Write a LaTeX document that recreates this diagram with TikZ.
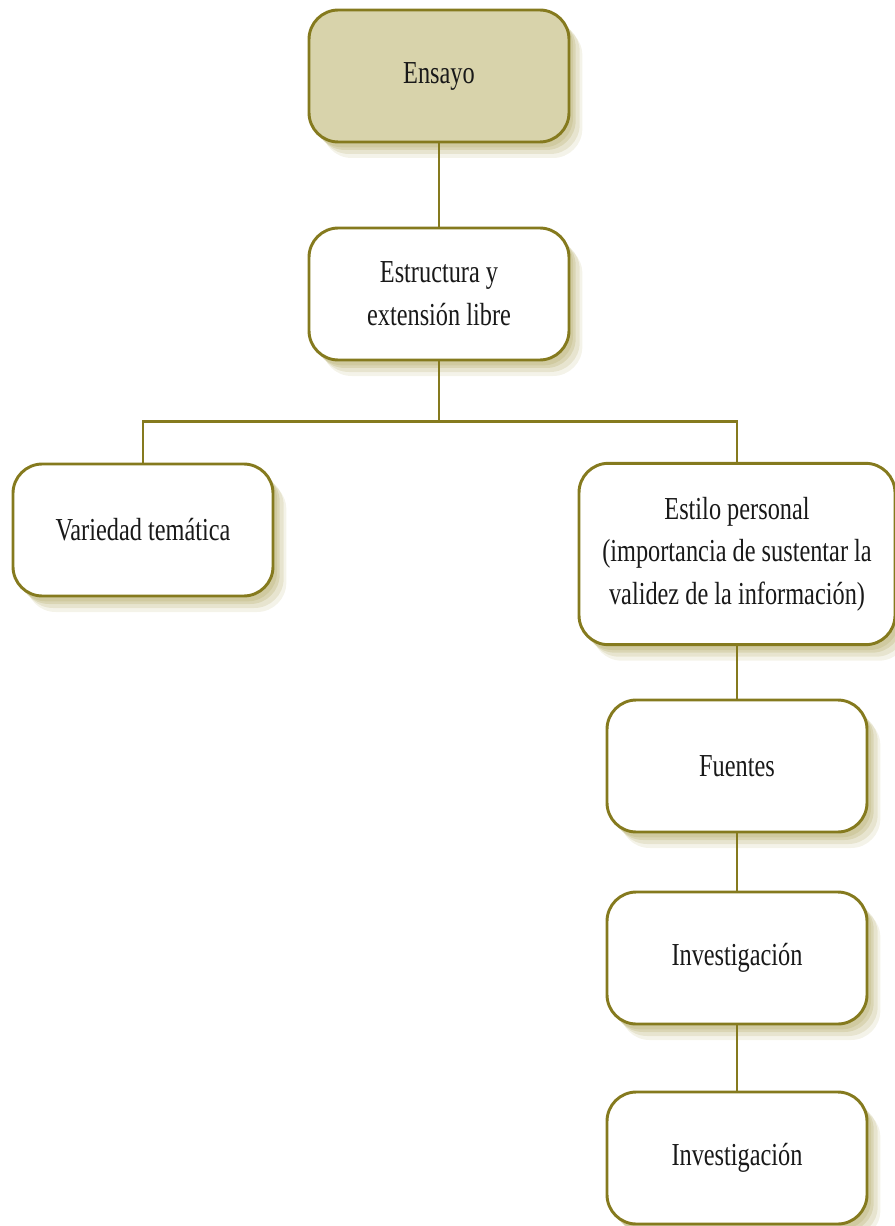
\documentclass[tikz,border=0pt]{standalone}
\usepackage{fontspec}
\setmainfont{Liberation Serif}[FakeStretch=0.76]
\usetikzlibrary{positioning,calc,shadows}

\definecolor{olivebd}{HTML}{857A1E}
\definecolor{olivefl}{HTML}{D8D3AB}
\definecolor{oliveshd}{HTML}{C9C393}

\tikzset{
  softshadow/.style={
    drop shadow={shadow xshift=10pt,shadow yshift=-12pt,fill=oliveshd,opacity=.2},
    drop shadow={shadow xshift=8pt,shadow yshift=-9pt,fill=oliveshd,opacity=.3},
    drop shadow={shadow xshift=5pt,shadow yshift=-6pt,fill=oliveshd,opacity=.45},
    drop shadow={shadow xshift=3pt,shadow yshift=-4pt,fill=oliveshd,opacity=.6}},
  box/.style={draw=olivebd,line width=2.2pt,rounded corners=22pt,fill=white,
    minimum width=195pt,minimum height=99pt,align=center,softshadow,
    font=\fontsize{24}{32}\selectfont,text=black!90}
}

\begin{document}
\begin{tikzpicture}[%
node distance=150pt,
on grid,
line width=1.9pt
]
\useasboundingbox (0,0) rectangle (670.5pt,-919.5pt);

\node[box,fill=olivefl] (ens) at (329.25pt,-57pt) {Ensayo};
\node[box] (estr) [below=163.5pt of ens] {Estructura y\\extensión libre};
\node[box] (var) [below left=177pt and 222pt of estr] {Variedad temática};
\node[box,minimum width=237pt,minimum height=136pt] (est) [below right=195pt and 223.5pt of estr]
  {Estilo personal\\(importancia de sustentar la\\validez de la información)};
\node[box] (fue) [below=159pt of est] {Fuentes};
\node[box] (inv1) [below=144pt of fue] {Investigación};
\node[box] (inv2) [below=150pt of inv1] {Investigación};

\coordinate (split) at ($(estr.south)+(0,-45pt)$);

\draw[olivebd] (ens) -- (estr);
\draw[olivebd] (estr) -- (split);
\draw[olivebd] (var.north) |- (split) -| (est.north);
\draw[olivebd] (est) -- (fue);
\draw[olivebd] (fue) -- (inv1);
\draw[olivebd] (inv1) -- (inv2);

\end{tikzpicture}
\end{document}
